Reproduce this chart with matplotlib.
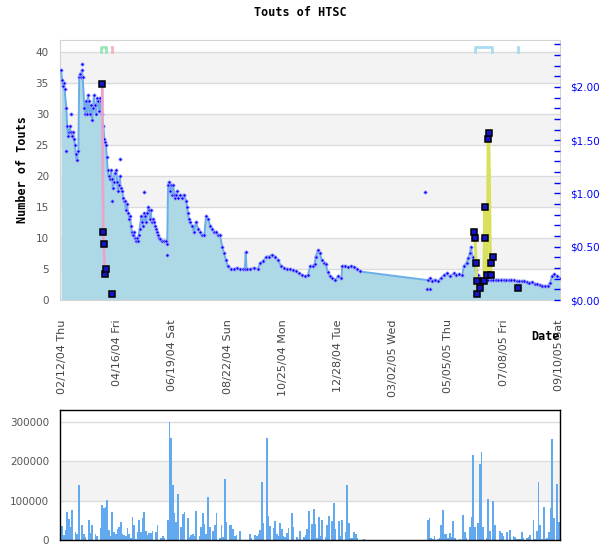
import datetime as dt
import numpy as np
import matplotlib
matplotlib.use("Agg")
import matplotlib.pyplot as plt
import matplotlib.dates as mdates
from matplotlib.ticker import FixedLocator, MultipleLocator, FuncFormatter

# ---------------- data ----------------
START = dt.date(2004, 2, 12)          # day 0
X_MIN_DAY, X_MAX_DAY = -2.3, 577.4
TICK_STEP_DAYS = 64
N_TICKS = 10

# touts per day (day offset from START, number of touts)
tout_day = [-1, 0, 1, 2, 3, 5, 6, 7, 8, 9, 10, 12, 13, 14, 15, 16, 17, 19, 20, 21, 22, 23, 24, 26, 27, 28, 29, 30,
            31, 32, 34, 35, 36, 37, 38, 39, 41, 42, 43, 44, 45,
            46, 48, 49, 50, 51, 52, 53, 54, 56, 57, 58, 59, 60, 61, 63, 64, 65, 66, 67, 68, 70, 71, 72, 73, 74, 75,
            77, 78, 79, 80, 81, 82, 83, 85, 86, 87, 88, 89, 90, 92, 93, 94, 95, 96, 97, 99, 100, 101, 102, 103,
            104, 106, 107, 108, 109, 110, 111, 112, 114, 116, 118, 121, 122, 123,
            124, 125, 126, 128, 129, 130, 131, 132, 133, 134, 137, 139, 141, 144, 145, 146, 147, 148, 151, 153,
            155, 158, 160, 162, 165, 167, 169, 172, 174, 176, 179, 181, 183, 186, 188, 190, 192, 196, 199, 203,
            206, 210, 212, 213, 214,
            218, 223, 227, 230, 233, 237, 240, 243, 247, 250, 254, 257, 261, 264, 268, 271, 275, 278, 282, 285,
            288, 291,
            293, 294, 297, 299, 301, 304, 306, 308, 311, 313, 317, 320, 324, 325, 328, 332, 335, 339, 342, 345,
            424, 427, 429, 432, 436, 439, 443, 446, 450, 454, 457, 460, 464, 466, 469, 471, 473, 474, 476, 478,
            480, 482, 485, 488, 491, 494, 497, 500, 503, 506, 509, 512, 515, 518, 521, 524, 527, 530, 533, 536,
            539, 542, 545, 548, 551, 554, 557, 560, 563, 566, 568, 571, 574, 578]
tout_val = [37.0, 35.5, 34.5, 35.0, 34.0, 31.0, 28.0, 26.5, 27.0, 28.0, 27.0, 26.5, 27.0, 26.0, 25.0, 23.5, 22.5,
            24.0, 36.0, 36.5, 36.0, 37.0, 36.0, 31.0, 30.0, 32.0, 30.0, 33.0, 32.0, 30.0, 31.5, 29.0, 31.0, 33.0,
            31.5, 30.0, 32.5, 32.0, 30.5, 32.5, 32.0,
            30.0, 28.0, 26.0, 25.5, 25.0, 23.0, 21.0, 20.0, 19.5, 21.0, 19.5, 18.0, 19.0, 20.5, 21.0, 19.0, 17.5,
            18.5, 20.0, 18.0, 17.5, 16.5, 16.0, 16.0, 14.5, 15.5, 14.0, 13.0, 13.5, 12.0, 11.0, 10.5, 11.0, 10.0,
            9.5, 10.0, 9.5, 10.5, 11.5, 13.5, 12.5, 12.0, 14.0, 13.5, 12.5, 14.0, 15.0, 14.5, 13.0, 14.5,
            12.5, 13.0, 12.5, 12.0, 11.5, 11.0, 10.5, 10.0, 9.8, 9.5, 9.5, 9.5, 9.0, 18.5,
            19.0, 17.5, 18.5, 17.0, 18.5, 17.0, 16.5, 17.0, 17.5, 16.5, 17.0, 16.5, 17.0, 16.0, 15.0, 14.0, 13.0,
            12.5, 12.0, 11.0, 12.5, 11.5, 11.0, 10.5, 10.5, 13.5, 13.0, 12.0, 11.5, 11.0, 11.0, 10.5, 10.5, 8.5,
            7.5, 6.5, 5.5, 5.0, 5.0, 5.2, 5.0, 5.0, 5.0, 7.7, 5.0,
            5.0, 5.2, 5.0, 6.0, 6.3, 7.0, 7.0, 7.3, 7.0, 6.5, 5.5, 5.2, 5.0, 5.0, 4.8, 4.6, 4.3, 4.0, 3.8, 4.0,
            5.5, 5.5,
            5.8, 7.0, 8.0, 7.5, 6.5, 6.0, 5.8, 4.5, 3.8, 3.5, 3.3, 3.8, 3.5, 5.5, 5.5, 5.3, 5.5, 5.3, 5.0, 4.6,
            3.2, 3.5, 3.0, 3.3, 3.0, 3.5, 4.0, 4.3, 3.8, 4.3, 4.0, 4.2, 4.0, 5.5, 6.0, 6.8, 7.5, 8.6, 7.0, 5.8,
            4.8, 4.0, 3.5, 3.3, 3.4, 3.2, 3.3, 3.2, 3.3, 3.2, 3.3, 3.3, 3.2, 3.2, 3.3, 3.2, 3.0, 3.1, 3.0, 3.0,
            2.9, 2.8, 2.9, 2.6, 2.5, 2.4, 2.3, 2.3, 2.2, 2.8, 3.8, 4.2, 3.8, 3.6]

# isolated tout observations away from the daily line
extra_day = [5, 10, 23, 58, 67, 95, 122, 421, 423, 427]
extra_val = [24.0, 30.0, 38.1, 16.0, 22.8, 17.4, 7.3, 17.4, 1.8, 1.8]

# price points (right axis, dollars)
pink_day = [46.7, 47.8, 48.2, 50.0, 51.3]
pink_price = [2.03, 0.64, 0.53, 0.24, 0.29]
pink_lone_day = [58.3]
pink_lone_price = [0.056]

yellow_day = [478, 479, 480, 481, 481.5, 485, 489, 490, 491, 493, 494, 495, 497, 497.5, 500]
yellow_price = [0.64, 0.58, 0.35, 0.18, 0.056, 0.11, 0.18, 0.87, 0.58, 0.23, 1.51, 1.57, 0.23, 0.35, 0.40]
yellow_lone_day = [529]
yellow_lone_price = [0.11]

# event markers at top (start day, end day, colour)
events = [(45, 51, "#98e6b8"), (58, 58, "#f4b4bc"), (479, 499, "#a8dcf0"), (529, 529, "#a8dcf0")]

# volume (thousands of shares), consecutive bars from day 0 to day 576
VOL_FIRST_DAY, VOL_LAST_DAY = 0, 576
vol_k = [36, 13, 25, 71, 53, 33, 76, 0, 20, 15, 140, 0, 38, 15, 8, 0, 51, 18, 38, 0, 15, 10, 0, 30, 89, 81, 84,
         102, 25, 10, 71, 20, 15, 28, 33, 46, 15, 12, 10, 30, 15, 5, 58, 38, 3, 20, 51, 20, 56, 71, 23, 13, 18,
         18, 23, 0, 20, 38, 0, 5, 10, 5, 0, 51, 300, 259, 140, 69, 46, 117, 0, 33, 66, 71, 0, 56,
         8, 13, 15, 10, 74, 0, 10, 33, 69, 41, 15, 109, 33, 0, 23, 38, 69, 0, 5, 38, 8, 155, 46, 0, 38, 38, 28,
         10, 13, 0, 23, 0, 0, 0, 0, 0, 15, 5, 0, 13, 10, 15, 25, 147, 43, 0, 259, 61, 36, 0, 30, 48, 15, 10, 43,
         28, 10, 8, 18, 30, 0, 69, 33, 0, 8, 3, 23, 0, 8, 13, 28, 74, 0, 41, 79,
         41, 5, 58, 10, 51, 0, 8, 38, 61, 0, 48, 94, 28, 0, 48, 10, 51, 0, 20, 140, 43, 5, 5, 20, 15, 5, 0, 0,
         0, 3,
         0, 0, 0, 0, 0, 0, 0, 0, 0, 0, 0, 0, 0, 0, 0, 0, 0, 0, 0, 0, 0, 0, 0, 0, 0, 0, 0, 0, 0, 0, 0, 0, 0, 0,
         0, 0, 0,
         51, 56, 5, 3,
         10, 0, 3, 5, 38, 76, 15, 15, 5, 18, 8, 48, 5, 0, 0, 3, 0, 64, 20, 5, 0, 33, 58, 216, 33, 0, 43, 193,
         224, 33, 0, 5, 104, 23, 0, 99, 38, 0, 0, 23, 18, 10, 0, 20, 0, 25, 0, 10, 8, 3, 3, 3, 20, 5, 0, 5, 8,
         13, 0, 51, 3, 23, 147, 38, 3, 84, 3, 5, 20, 81, 257, 56, 0, 142, 46]

# ---------------- drawing ----------------
base = mdates.date2num(START)


def to_num(days):
    return base + np.asarray(days, dtype=float)


MONO = "DejaVu Sans Mono"
fig = plt.figure(figsize=(6, 5.5), dpi=100)
fig.patch.set_facecolor("white")

ax = fig.add_axes([60 / 600, 1 - 300 / 550, 500 / 600, 260 / 550])
ax.set_xlim(to_num(X_MIN_DAY), to_num(X_MAX_DAY))
ax.set_ylim(0, 41.9)

for lo in (5, 15, 25, 35):
    ax.axhspan(lo, lo + 5, color="#f3f3f3", zorder=0, lw=0)
for y in range(5, 41, 5):
    ax.axhline(y, color="#dcdcdc", lw=1, zorder=0.5)

xt = to_num(tout_day)
ax.fill_between(xt, tout_val, 0, color="#add8e6", lw=0, zorder=2)
ax.plot(xt, tout_val, color="#6aaee8", lw=1.4, zorder=3)
dot = dict(marker="o", ms=2.3, mfc="#0000ff", mec="#a0a0ff", mew=0.6, ls="none", zorder=4)
ax.plot(xt, tout_val, **dot)
ax.plot(to_num(extra_day), extra_val, **dot)

trans = ax.get_xaxis_transform()
for d0, d1, col in events:
    if d0 == d1:
        ax.plot(to_num([d0, d0]), [0.954, 0.975], color=col, lw=2, transform=trans, zorder=5, clip_on=False)
    else:
        ax.plot(to_num([d0, d0, d1, d1]), [0.954, 0.975, 0.975, 0.954], color=col, lw=2,
                transform=trans, zorder=5, clip_on=False)

for s in ax.spines.values():
    s.set_color("#d4d4d4")
ax.set_yticks(range(0, 41, 5))
ax.tick_params(axis="y", length=0, pad=8, labelsize=7.5, labelcolor="#555555")
ticks = [to_num(TICK_STEP_DAYS * k) for k in range(N_TICKS)]
ax.xaxis.set_major_locator(FixedLocator(ticks))
ax.xaxis.set_major_formatter(mdates.DateFormatter("%m/%d/%y %a"))
ax.tick_params(axis="x", length=0, pad=14, labelsize=8, labelcolor="#444444", labelrotation=90)
ax.set_ylabel("Number of Touts", fontfamily=MONO, fontweight="bold", fontsize=8.5, labelpad=5)

ax2 = ax.twinx()
ax2.set_ylim(0, 2.44)
for s in ax2.spines.values():
    s.set_visible(False)
ax2.yaxis.set_major_locator(MultipleLocator(0.5))
ax2.yaxis.set_minor_locator(MultipleLocator(0.1))
ax2.yaxis.set_major_formatter(FuncFormatter(lambda v, p: "$%.2f" % v))
ax2.tick_params(axis="y", which="both", direction="in", length=4, width=1, color="#0000ff",
                labelcolor="#0000ff", labelsize=7.5, pad=7)

sq = dict(marker="s", ms=4, mfc="#1414c8", mec="black", mew=1.1, ls="none", zorder=4)
ax2.plot(to_num(pink_day), pink_price, color="#e8a4cc", lw=2, zorder=3)
ax2.plot(to_num(pink_day), pink_price, **sq)
ax2.plot(to_num(pink_lone_day), pink_lone_price, **sq)
ax2.plot(to_num(yellow_day), yellow_price, color="#d8e05c", lw=2, zorder=3)
ax2.plot(to_num(yellow_day), yellow_price, **sq)
ax2.plot(to_num(yellow_lone_day), yellow_lone_price, **sq)

fig.text(0.5, 1 - 12 / 550, "Touts of HTSC", ha="center", va="center", fontfamily=MONO,
         fontweight="bold", fontsize=8.5)
fig.text(545 / 600, 1 - 337 / 550, "Date", ha="center", va="center", fontfamily=MONO,
         fontweight="bold", fontsize=8.5)

# volume panel
axv = fig.add_axes([60 / 600, 1 - 540 / 550, 500 / 600, 130 / 550])
axv.set_xlim(to_num(X_MIN_DAY), to_num(X_MAX_DAY))
axv.set_ylim(0, 330500)
axv.axhspan(100000, 200000, color="#f3f3f3", zorder=0, lw=0)
for y in (100000, 200000, 300000):
    axv.axhline(y, color="#dcdcdc", lw=1, zorder=0.5)
n = len(vol_k)
step = (VOL_LAST_DAY - VOL_FIRST_DAY) / (n - 1)
vdays = [VOL_FIRST_DAY + i * step for i in range(n)]
axv.bar(to_num(vdays), [v * 1000 for v in vol_k], width=step * 1.0, color="#62a9f0", lw=0, zorder=2,
        antialiased=False)
axv.set_yticks([0, 100000, 200000, 300000])
axv.set_yticklabels(["0", "100000", "200000", "300000"])
axv.tick_params(axis="y", length=0, pad=8, labelsize=7.5, labelcolor="#555555")
axv.set_xticks([])
for s in axv.spines.values():
    s.set_color("black")
    s.set_linewidth(1)

fig.savefig("out.png", dpi=100, facecolor="white")
